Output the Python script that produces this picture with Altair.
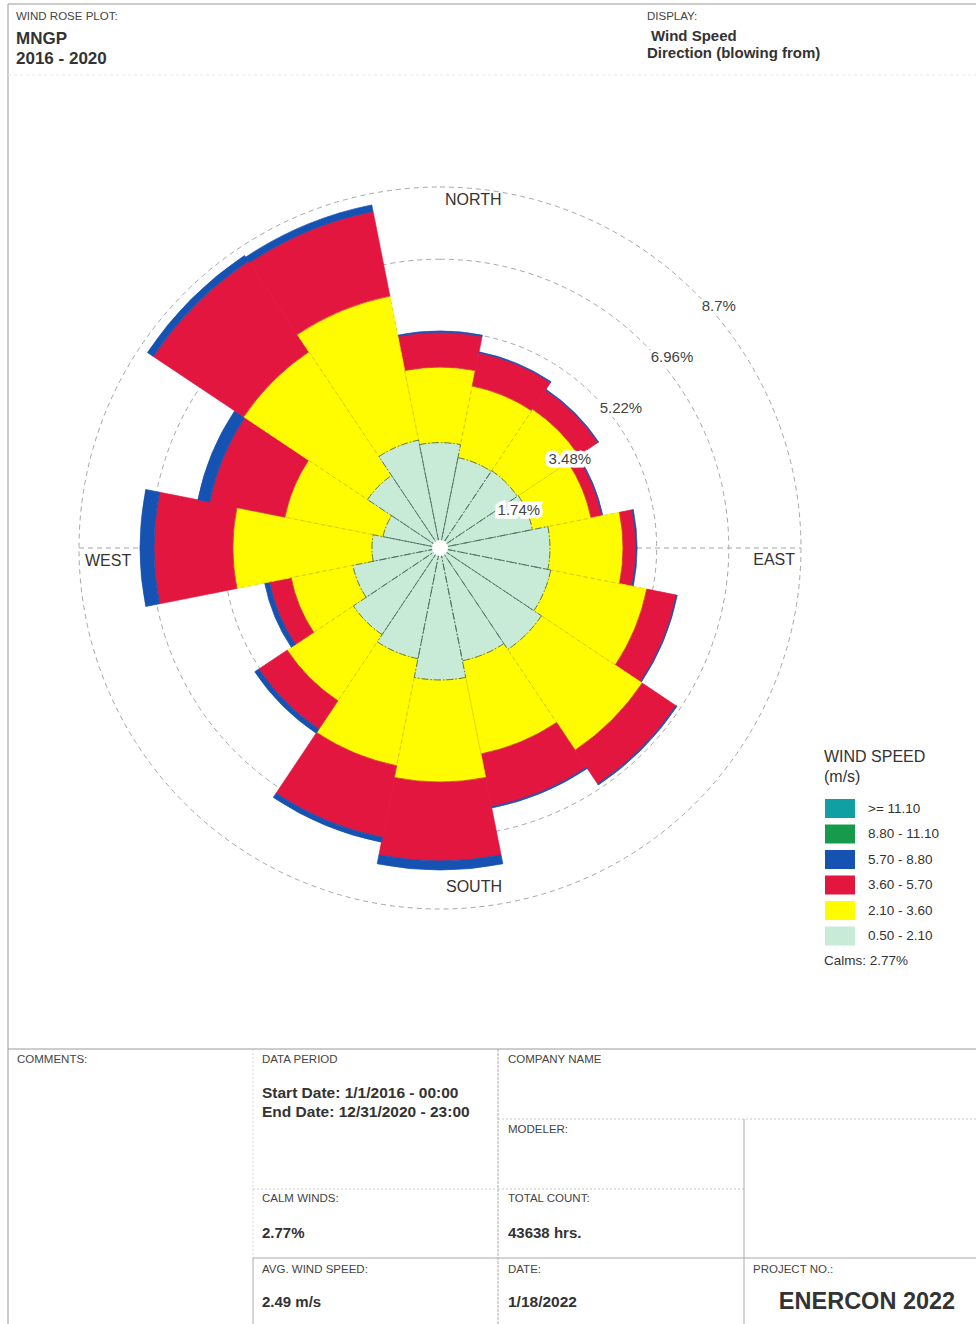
import math

import altair as alt
import pandas as pd

# ---------------------------------------------------------------------------
# Wind rose data: frequency (% of hours) per direction sector and speed class
# ---------------------------------------------------------------------------
directions = ["N", "NNE", "NE", "ENE", "E", "ESE", "SE", "SSE",
              "S", "SSW", "SW", "WSW", "W", "WNW", "NW", "NNW"]

speed_bins = ["0.50 - 2.10", "2.10 - 3.60", "3.60 - 5.70",
              "5.70 - 8.80", "8.80 - 11.10", ">= 11.10"]
speed_colors = ["#c8ebd8", "#fffb00", "#e3163f", "#1652b2", "#169a4c", "#10a0a4"]

freq_050_210 = [2.54, 2.22, 2.24, 2.27, 2.65, 2.72, 2.94, 2.77,
                3.18, 2.72, 2.51, 2.14, 1.64, 1.40, 2.10, 2.65]
freq_210_360 = [1.82, 1.76, 1.78, 1.44, 1.76, 2.36, 2.92, 2.29,
                2.46, 2.63, 1.92, 1.52, 3.35, 2.41, 3.59, 3.54]
freq_360_570 = [0.84, 0.82, 0.56, 0.27, 0.31, 0.73, 0.98, 1.30,
                1.90, 1.76, 0.82, 0.53, 1.90, 1.85, 2.62, 2.08]
freq_570_880 = [0.03, 0.02, 0.02, 0.02, 0.03, 0.02, 0.03, 0.03,
                0.22, 0.12, 0.12, 0.12, 0.34, 0.29, 0.17, 0.16]
freq_880_1110 = [0.0] * 16
freq_ge_1110 = [0.0] * 16

ring_values = [1.74, 3.48, 5.22, 6.96, 8.7]
ring_labels = ["1.74%", "3.48%", "5.22%", "6.96%", "8.7%"]
compass_names = ["NORTH", "EAST", "SOUTH", "WEST"]
compass_angles = [0, 90, 180, 270]

calm_pct = 2.77
avg_speed = "2.49 m/s"
total_count = "43638 hrs."

# ---------------------------------------------------------------------------
# Layout constants
# ---------------------------------------------------------------------------
W, H = 976, 1324
CX, CY = 440, 548          # rose centre
R_MAX = 361                # pixel radius of the outer (8.7 %) ring
FONT = "Liberation Sans"

theta_scale = alt.Scale(domain=[0, 360], range=[0, 2 * math.pi])
r_scale = alt.Scale(type="linear", domain=[0, ring_values[-1]], range=[0, R_MAX],
                    nice=False, zero=True)

# stacked sectors: each speed class sits on top of the slower ones
series = [freq_050_210, freq_210_360, freq_360_570,
          freq_570_880, freq_880_1110, freq_ge_1110]
rows = []
sector = 360 / len(directions)
for i, d in enumerate(directions):
    start = i * sector - sector / 2
    cum = 0.0
    for name, vals in zip(speed_bins, series):
        v = vals[i]
        if v <= 0:
            continue
        rows.append({"direction": d, "speed": name, "freq": v,
                     "a0": start, "a1": start + sector,
                     "r0": cum, "r1": cum + v})
        cum += v
petals = pd.DataFrame(rows)

rings = pd.DataFrame({"ring": ring_values, "label": ring_labels,
                      "ang": [45] * len(ring_values)})
compass = pd.DataFrame({"name": compass_names, "ang": compass_angles,
                        "r": [ring_values[-1]] * 4})

legend_order = list(reversed(speed_bins))
legend_colors = list(reversed(speed_colors))
speed_scale = alt.Scale(domain=legend_order, range=legend_colors)

centre = dict(x=alt.value(CX), y=alt.value(CY))

# dashed reference rings
ring_layer = alt.Chart(rings).mark_arc(
    fillOpacity=0, stroke="#9c9c9c", strokeWidth=0.9, strokeDash=[5, 4]
).encode(
    theta=alt.value(0), theta2=alt.value(2 * math.pi),
    radius=alt.Radius("ring:Q", scale=r_scale, stack=False),
    **centre,
)

# horizontal dashed axis across the rose
axis_layer = alt.Chart(pd.DataFrame({"k": [0]})).mark_rule(
    color="#9c9c9c", strokeWidth=0.9, strokeDash=[5, 4]
).encode(x=alt.value(CX - R_MAX), x2=alt.value(CX + R_MAX), y=alt.value(CY))

petal_enc = dict(
    theta=alt.Theta("a0:Q", scale=theta_scale, stack=False),
    theta2="a1:Q",
    radius=alt.Radius("r1:Q", scale=r_scale, stack=False),
    radius2="r0:Q",
    **centre,
)

petal_layer = alt.Chart(petals).mark_arc(strokeWidth=0.7).encode(
    color=alt.Color(
        "speed:N",
        scale=speed_scale,
        legend=alt.Legend(
            title=None, orient="none", legendX=830, legendY=798.5,
            symbolType="M-1.5,-0.95H1.5V0.95H-1.5Z", symbolSize=400,
            symbolStrokeWidth=0, symbolOpacity=1,
            labelFont=FONT, labelFontSize=13.5, labelColor="#333333",
            labelOffset=18, rowPadding=5.5,
        ),
    ),
    stroke=alt.Stroke("speed:N", scale=speed_scale, legend=None),
    **petal_enc,
)

# sector outlines in the light and yellow classes
calm_outline = alt.Chart(petals).transform_filter(
    alt.datum.speed == speed_bins[0]
).mark_arc(
    fillOpacity=0, stroke="#4f6e60", strokeWidth=0.9, strokeDash=[7, 2, 1.5, 2]
).encode(**petal_enc)

yellow_outline = alt.Chart(petals).transform_filter(
    alt.datum.speed == speed_bins[1]
).mark_arc(
    fillOpacity=0, stroke="#a49a20", strokeOpacity=0.55, strokeWidth=0.6,
    strokeDash=[4, 3]
).encode(**petal_enc)

hub = alt.Chart(pd.DataFrame({"k": [0]})).mark_arc(color="white").encode(
    theta=alt.value(0), theta2=alt.value(2 * math.pi), radius=alt.value(8),
    **centre,
)

# ring percentage labels on a white box
ring_text_enc = dict(
    theta=alt.Theta("ang:Q", scale=theta_scale, stack=False),
    radius=alt.Radius("ring:Q", scale=r_scale, stack=False),
    text="label:N",
    **centre,
)
ring_halo = alt.Chart(rings).mark_text(
    align="left", baseline="middle", dx=6.5, dy=13.5, font=FONT, fontSize=15,
    color="white", stroke="white", strokeWidth=7, strokeJoin="miter",
).encode(**ring_text_enc)
ring_text = alt.Chart(rings).mark_text(
    align="left", baseline="middle", dx=6.5, dy=13.5, font=FONT, fontSize=15,
    color="#444444",
).encode(**ring_text_enc)

compass_style = {
    "NORTH": ("left", 5, 13),
    "EAST": ("right", -6, 12),
    "SOUTH": ("left", 6, -22),
    "WEST": ("left", 6, 13),
}
compass_layers = []
for name in compass_names:
    align, dx, dy = compass_style[name]
    compass_layers.append(
        alt.Chart(compass).transform_filter(alt.datum.name == name).mark_text(
            align=align, baseline="middle", dx=dx, dy=dy, font=FONT,
            fontSize=16, color="#333333",
        ).encode(
            theta=alt.Theta("ang:Q", scale=theta_scale, stack=False),
            radius=alt.Radius("r:Q", scale=r_scale, stack=False),
            text="name:N",
            **centre,
        )
    )


def text_at(txt, x, y, size, bold=False, color="#333333", align="left"):
    return alt.Chart(pd.DataFrame({"label": [txt]})).mark_text(
        align=align, baseline="middle", font=FONT, fontSize=size,
        fontWeight="bold" if bold else "normal", color=color,
    ).encode(x=alt.value(x), y=alt.value(y), text="label:N")


def line(x, y, x2, y2, color="#9a9a9a", width=1.0, dash=None):
    kw = dict(color=color, strokeWidth=width)
    if dash:
        kw["strokeDash"] = dash
    return alt.Chart(pd.DataFrame({"k": [0]})).mark_rule(**kw).encode(
        x=alt.value(x), y=alt.value(y), x2=alt.value(x2), y2=alt.value(y2))


# page frame and the information block at the bottom
frame = [
    line(8, 4, W, 4),
    line(8, 4, 8, H),
    line(8, 75, W, 75, color="#e6e6e6", dash=[3, 3]),
    line(8, 1049, W, 1049),
    line(253, 1049, 253, 1258, color="#d6d6d6", dash=[2, 2]),
    line(253, 1258, 253, H, color="#aaaaaa"),
    line(253, 1189, 498, 1189, color="#d0d0d0", dash=[2, 2]),
    line(253, 1258, W, 1258, color="#aaaaaa"),
    line(498, 1049, 498, H, color="#aaaaaa", dash=[3, 1]),
    line(498, 1119, W, 1119, color="#c8c8c8", dash=[2, 2]),
    line(498, 1189, 744, 1189, color="#c8c8c8", dash=[2, 2]),
    line(744, 1119, 744, H, color="#aaaaaa"),
]

LBL = "#444444"
texts = [
    text_at("WIND ROSE PLOT:", 16, 17, 11.5, color=LBL),
    text_at("MNGP", 16, 39, 17, bold=True),
    text_at("2016 - 2020", 16, 59, 17, bold=True),
    text_at("DISPLAY:", 647, 17, 11.5, color=LBL),
    text_at("Wind Speed", 651, 36, 15, bold=True),
    text_at("Direction (blowing from)", 647, 53, 15, bold=True),
    text_at("WIND SPEED", 824, 757, 16),
    text_at("(m/s)", 824, 777, 16),
    text_at(f"Calms: {calm_pct:.2f}%", 824, 961, 13.5),
    text_at("COMMENTS:", 17, 1060, 11.5, color=LBL),
    text_at("DATA PERIOD", 262, 1060, 11.5, color=LBL),
    text_at("Start Date: 1/1/2016 - 00:00", 262, 1093, 15.5, bold=True),
    text_at("End Date: 12/31/2020 - 23:00", 262, 1112, 15.5, bold=True),
    text_at("CALM WINDS:", 262, 1199, 11.5, color=LBL),
    text_at(f"{calm_pct:.2f}%", 262, 1233, 15, bold=True),
    text_at("AVG. WIND SPEED:", 262, 1270, 11.5, color=LBL),
    text_at(avg_speed, 262, 1302, 15, bold=True),
    text_at("COMPANY NAME", 508, 1060, 11.5, color=LBL),
    text_at("MODELER:", 508, 1130, 11.5, color=LBL),
    text_at("TOTAL COUNT:", 508, 1199, 11.5, color=LBL),
    text_at(total_count, 508, 1233, 15, bold=True),
    text_at("DATE:", 508, 1270, 11.5, color=LBL),
    text_at("1/18/2022", 508, 1302, 15.5, bold=True),
    text_at("PROJECT NO.:", 753, 1270, 11.5, color=LBL),
    text_at("ENERCON 2022", 867, 1302, 23.5, bold=True, align="center"),
]

chart = alt.layer(
    ring_layer, axis_layer, petal_layer, yellow_outline, calm_outline, hub,
    ring_halo, ring_text, *compass_layers, *frame, *texts,
).properties(
    width=W, height=H, padding=0,
    autosize=alt.AutoSizeParams(type="none"),
).configure(background="white").configure_view(strokeWidth=0)

chart.save("out.html", embed_options={"renderer": "svg", "actions": False})
